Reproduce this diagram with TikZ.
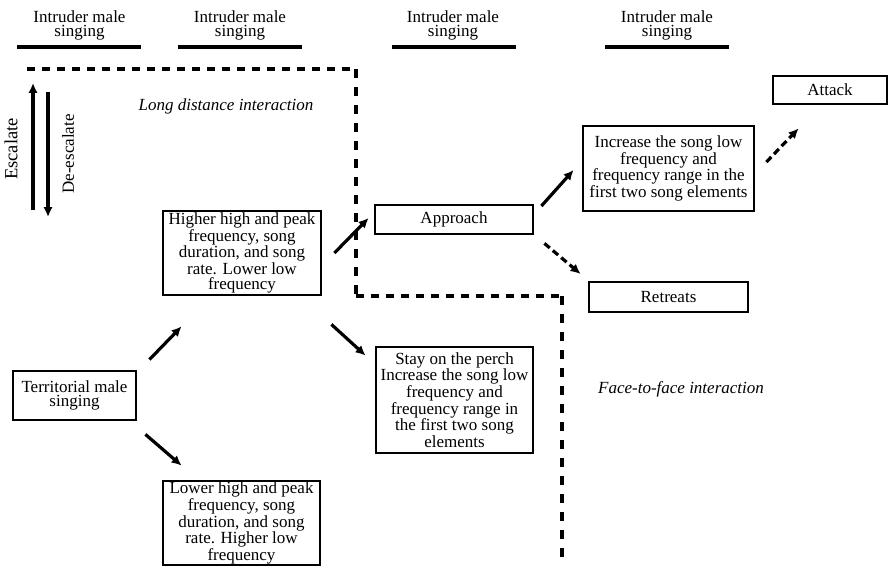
\documentclass[tikz,border=0pt]{standalone}
\usepackage{fontspec}
\setmainfont{Liberation Serif}
\usetikzlibrary{arrows.meta,calc}
\begin{document}
\begin{tikzpicture}[x=1pt,y=-1pt,
  every node/.style={font=\fontsize{17}{15}\selectfont, inner sep=0pt},
  box/.style={draw, line width=2.8pt, align=center},
  hdr/.style={align=center, font=\fontsize{17}{14.5}\selectfont},
  lbl/.style={font=\itshape\fontsize{17}{15}\selectfont},
  hline/.style={line width=3.4pt},
  arr/.style={line width=3.2pt, -{Latex[length=10pt,width=9.5pt]}},
  darr/.style={arr, dash pattern=on 7pt off 4pt},
  boundh/.style={line width=3.4pt, dash pattern=on 8pt off 7pt},
  boundv/.style={line width=3.4pt, dash pattern=on 9pt off 9pt},
]
\useasboundingbox (0,0) rectangle (894,567);

% headers
\node[hdr] (h1) at (79.5,25.5) {Intruder male\\singing};
\node[hdr] (h2) at (240,25.5) {Intruder male\\singing};
\node[hdr] (h3) at (453,25.5) {Intruder male\\singing};
\node[hdr] (h4) at (667,25.5) {Intruder male\\singing};
\draw[hline] (17,47) -- (141,47);
\draw[hline] (178,47) -- (302,47);
\draw[hline] (392,47) -- (516,47);
\draw[hline] (605,47) -- (729,47);

% boundary
\coordinate (b1) at (27,69);
\coordinate (b2) at (356,69);
\coordinate (b3) at (356,296);
\coordinate (b4) at (562,296);
\coordinate (b5) at (562,562);
\draw[boundh] (b1) -- (b2);
\draw[boundv] (b2) -- (b3);
\draw[boundh] (b3) -- (b4);
\draw[boundv] (b4) -- (b5);

% labels
\node[lbl] (ld) at (226,106) {Long distance interaction};
\node[lbl] (ff) at (681,389) {Face-to-face interaction};

% escalate / de-escalate
\node[rotate=90, font=\fontsize{18.5}{15}\selectfont] (esc) at (11,149) {Escalate};
\node[rotate=90] (desc) at (68,154) {De-escalate};
\coordinate (e1) at (33,210);
\coordinate (e2) at (33,83);
\coordinate (d1) at (48,92);
\coordinate (d2) at (48,217);
\draw[arr] (e1) -- (e2);
\draw[arr] (d1) -- (d2);

% boxes
\node[box, minimum width=114pt, minimum height=28pt] (attack) at (830,90) {Attack};
\node[box, minimum width=171pt, minimum height=85pt, font=\fontsize{17}{14}\selectfont] (incr) at (668.5,168.5)
  {Increase the song low\\frequency and\\frequency range in the\\first two song elements};
\node[box, minimum width=158pt, minimum height=29pt] (appr) at (454,219.5) {Approach};
\node[box, minimum width=158pt, minimum height=84pt] (higher) at (242,253)
  {Higher high and peak\\frequency, song\\duration, and song\\rate. Lower low\\frequency};
\node[box, minimum width=159pt, minimum height=30pt] (retr) at (668.5,297) {Retreats};
\node[box, minimum width=123pt, minimum height=49pt, font=\fontsize{17}{14}\selectfont] (terr) at (74.5,395.5)
  {Territorial male\\singing};
\node[box, minimum width=157pt, minimum height=106pt] (stay) at (454.5,400)
  {Stay on the perch\\Increase the song low\\frequency and\\frequency range in\\the first two song\\elements};
\node[box, minimum width=157pt, minimum height=84pt] (lower) at (241.5,523)
  {Lower high and peak\\frequency, song\\duration, and song\\rate. Higher low\\frequency};

% connectors
\draw[arr] ($(terr.north east)+(12,-10)$) -- ($(higher.south west)+(20,30)$);
\draw[arr] ($(terr.south east)+(8,13)$) -- ($(lower.north west)+(20,-14)$);
\draw[arr] ($(higher.east)+(12,0)$) -- ($(appr.west)+(-5,-1.5)$);
\draw[arr] ($(higher.south east)+(9,28)$) -- ($(stay.north west)+(-9,10)$);
\draw[arr] ($(appr.east)+(7,-13.5)$) -- ($(incr.west)+(-8,1.5)$);
\draw[darr] ($(appr.south east)+(10,8)$) -- ($(retr.west)+(-7,-23)$);
\draw[darr] ($(incr.east)+(11,-6.5)$) -- ($(attack.south west)+(27,23)$);
\end{tikzpicture}
\end{document}
